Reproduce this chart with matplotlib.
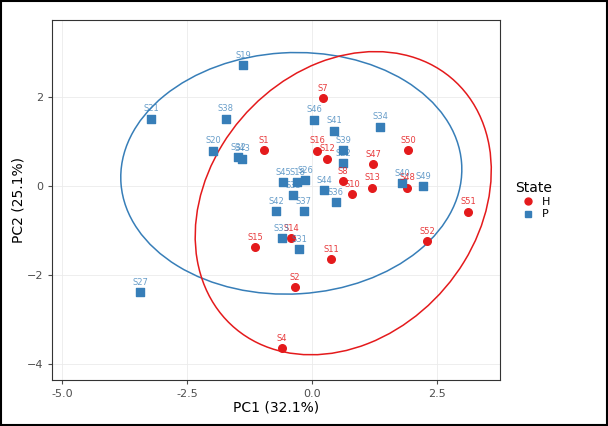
import numpy as np
import matplotlib
matplotlib.use("Agg")
import matplotlib.pyplot as plt
from matplotlib.patches import Ellipse
from matplotlib.lines import Line2D

h_labels = ["S1","S7","S16","S12","S50","S47","S8","S10","S13","S48","S51","S14","S15","S52","S11","S2","S4"]
h_x = [-0.96,0.22,0.10,0.30,1.92,1.22,0.62,0.80,1.20,1.90,3.12,-0.42,-1.14,2.30,0.38,-0.34,-0.60]
h_y = [0.81,1.98,0.79,0.61,0.81,0.49,0.11,-0.18,-0.04,-0.04,-0.58,-1.17,-1.37,-1.24,-1.64,-2.27,-3.64]
p_labels = ["S19","S21","S38","S20","S32","S43","S46","S41","S34","S39","S22","S45","S18","S26","S44","S40","S49","S36","S35","S37","S42","S33","S31","S27"]
p_x = [-1.38,-3.22,-1.72,-1.98,-1.48,-1.40,0.04,0.44,1.36,0.62,0.62,-0.58,-0.30,-0.14,0.24,1.80,2.22,0.48,-0.38,-0.16,-0.72,-0.60,-0.26,-3.44]
p_y = [2.72,1.51,1.51,0.79,0.65,0.61,1.49,1.24,1.33,0.81,0.52,0.09,0.09,0.13,-0.09,0.07,0.00,-0.36,-0.20,-0.56,-0.56,-1.17,-1.42,-2.38]

RED = "#E41A1C"
BLUE = "#377EB8"

fig = plt.figure(figsize=(6.08, 4.26), dpi=100)
ax = fig.add_axes([52/608, 46/426, 448/608, 360/426])

def conf_ellipse(x, y, color, s):
    x = np.array(x); y = np.array(y)
    cov = np.cov(x, y)
    vals, vecs = np.linalg.eigh(cov)
    ang = np.degrees(np.arctan2(vecs[1, 1], vecs[0, 1]))
    ax.add_patch(Ellipse((x.mean(), y.mean()), 2*s*np.sqrt(vals[1]), 2*s*np.sqrt(vals[0]),
                         angle=ang, fill=False, color=color, lw=1.1))

conf_ellipse(p_x, p_y, BLUE, 2.47)
conf_ellipse(h_x, h_y, RED, 2.48)

ax.scatter(h_x, h_y, s=30, c=RED, marker="o", zorder=3)
ax.scatter(p_x, p_y, s=28, c=BLUE, marker="s", zorder=3)
for l, x, y in zip(h_labels, h_x, h_y):
    ax.text(x, y+0.12, l, color=RED, fontsize=6, ha="center", va="bottom", alpha=0.85)
for l, x, y in zip(p_labels, p_x, p_y):
    ax.text(x, y+0.12, l, color=BLUE, fontsize=6, ha="center", va="bottom", alpha=0.75)

ax.set_xlim(-5.2, 3.76)
ax.set_ylim(-4.36, 3.73)
ax.set_xticks([-5, -2.5, 0, 2.5])
ax.set_xticklabels(["-5.0", "-2.5", "0.0", "2.5"])
ax.set_yticks([-4, -2, 0, 2])
ax.grid(True, color="#EBEBEB", lw=0.6)
ax.set_axisbelow(True)
for s in ax.spines.values():
    s.set_color("#333333"); s.set_linewidth(0.8)
ax.tick_params(labelsize=8, colors="#4D4D4D", length=3)
ax.set_xlabel("PC1 (32.1%)", fontsize=10, labelpad=1)
ax.set_ylabel("PC2 (25.1%)", fontsize=10, labelpad=1)

handles = [Line2D([], [], marker="o", color=RED, ls="", ms=5, label="H"),
           Line2D([], [], marker="s", color=BLUE, ls="", ms=5, label="P")]
fig.legend(handles=handles, title="State", loc="center left", bbox_to_anchor=(505/608, 0.53),
           frameon=False, fontsize=8, title_fontsize=10, handletextpad=0.2, labelspacing=0.2)

fig.patches.append(plt.Rectangle((0.002, 0.002), 0.996, 0.996, transform=fig.transFigure,
                                 fill=False, ec="black", lw=1.5))
fig.savefig("out.png", dpi=100)
